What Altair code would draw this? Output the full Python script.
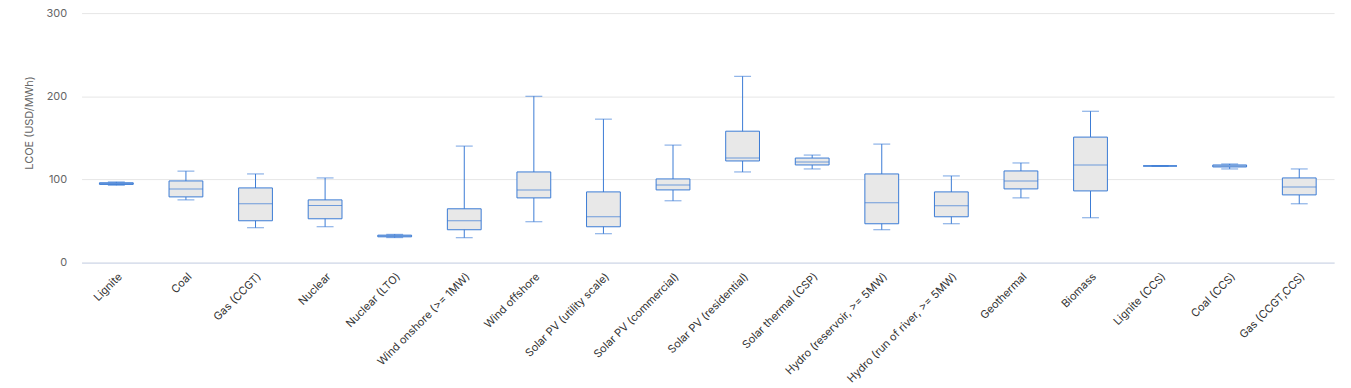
import altair as alt
import pandas as pd

categories = [
    "Lignite", "Coal", "Gas (CCGT)", "Nuclear", "Nuclear (LTO)",
    "Wind onshore (>= 1MW)", "Wind offshore", "Solar PV (utility scale)",
    "Solar PV (commercial)", "Solar PV (residential)", "Solar thermal (CSP)",
    "Hydro (reservoir, >= 5MW)", "Hydro (run of river, >= 5MW)", "Geothermal",
    "Biomass", "Lignite (CCS)", "Coal (CCS)", "Gas (CCGT,CCS)",
]
low    = [93,  75.4, 41.9, 43.1, 30,   29.9, 49.1, 34.7, 74.3, 109,   112.6, 39.5, 46.7, 77.8, 53.9, 116.2, 112.6, 70.7]
q1     = [94,  79,   50.3, 52.7, 31,   39.5, 77.8, 43.1, 87.4, 122.2, 117.4, 46.7, 55.1, 88.6, 86.2, 116.2, 115,   81.4]
median = [95,  88.6, 70.7, 68.6, 32,   50.3, 87.4, 55.1, 93.4, 125.7, 121,   71.9, 68.3, 98.2, 117.4, 116.2, 116.2, 91]
q3     = [96,  98.2, 89.8, 75.4, 33,   64.7, 109,  85,   100.6, 158,  125.7, 106.6, 85,  110.2, 150.9, 116.2, 117.4, 101.8]
high   = [97,  110,  106.6, 101.8, 34, 140.1, 200, 172.5, 141.3, 224,  129.3, 142.5, 104.2, 119.8, 182, 116.2, 118.6, 112.6]

df = pd.DataFrame({"cat": categories, "low": low, "q1": q1, "median": median, "q3": q3, "high": high})

BLUE = "#3a7bd5"
FONT = "Inter"

x = alt.X("cat:N", sort=categories, title=None,
          scale=alt.Scale(paddingInner=0, paddingOuter=0),
          axis=alt.Axis(labelAngle=-45, labelFont=FONT, labelFontSize=11, labelColor="#333333",
                        domainColor="#ccd6eb", ticks=False, grid=False, labelPadding=8,
                        labelLimit=300, labelOverlap=False))
yscale = alt.Scale(domain=[0, 300], nice=False)
y_axis = alt.Axis(values=[0, 100, 200, 300], labelFont=FONT, labelFontSize=11, labelColor="#666666",
                  gridColor="#e6e6e6", domain=False, ticks=False, labelPadding=15,
                  titleFont=FONT, titleFontSize=11, titleColor="#666666", titleFontWeight="normal",
                  titlePadding=12, titleY=110)

base = alt.Chart(df)

whisker = base.mark_rule(color=BLUE, strokeWidth=1).encode(
    x=x,
    y=alt.Y("low:Q", scale=yscale, axis=y_axis, title="LCOE (USD/MWh)"),
    y2="high:Q",
)
box = base.mark_bar(size=34, fill="#e8e8e8", stroke=BLUE, strokeWidth=1).encode(
    x=x, y=alt.Y("q1:Q", scale=yscale), y2="q3:Q",
)
med = base.mark_tick(size=34, thickness=1, color=BLUE, orient="horizontal").encode(
    x=x, y=alt.Y("median:Q", scale=yscale),
)
cap_lo = base.mark_tick(size=17, thickness=1, color=BLUE, orient="horizontal").encode(
    x=x, y=alt.Y("low:Q", scale=yscale),
)
cap_hi = base.mark_tick(size=17, thickness=1, color=BLUE, orient="horizontal").encode(
    x=x, y=alt.Y("high:Q", scale=yscale),
)

chart = alt.layer(whisker, box, med, cap_lo, cap_hi).properties(
    width=1260, height=251,
    autosize=alt.AutoSizeParams(type="none"),
    padding={"left": 74, "top": 4, "right": 9, "bottom": 120},
).configure(background="white").configure_view(stroke=None)

chart.save("out.html", embed_options={"renderer": "svg", "actions": False})
